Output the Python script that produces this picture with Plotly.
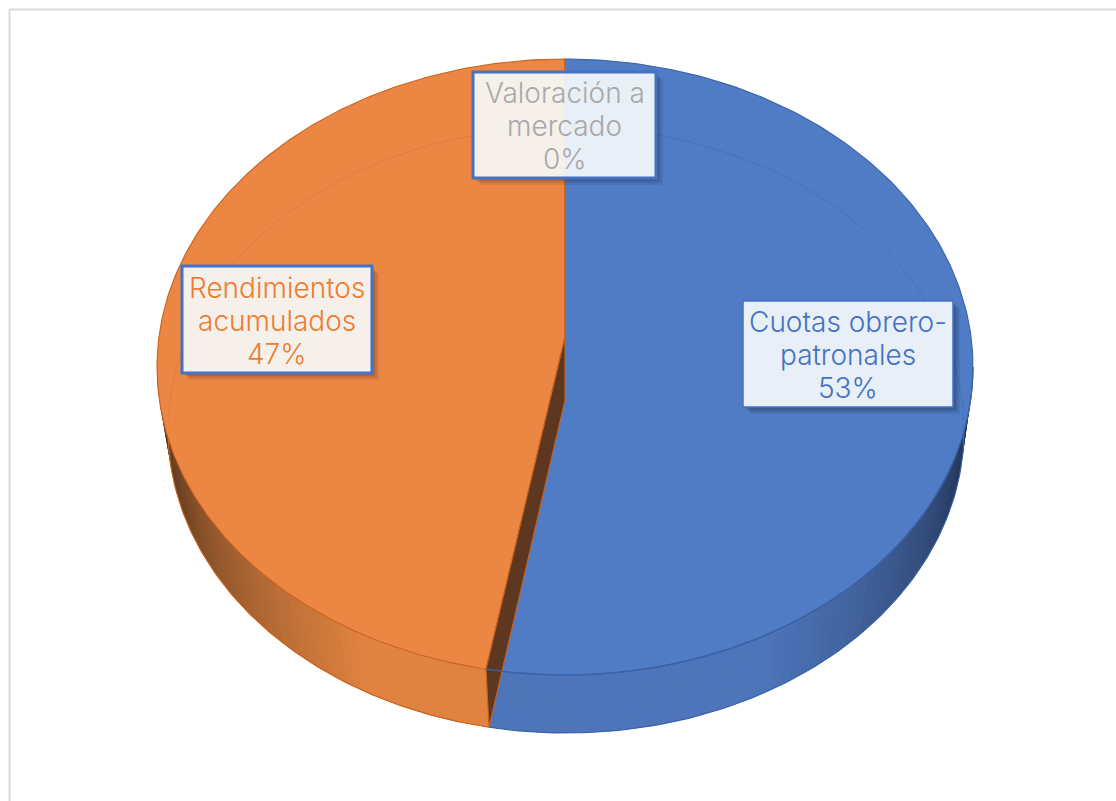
import numpy as np
import plotly.graph_objects as go

categories = [["Cuotas obrero-", "patronales"], ["Rendimientos", "acumulados"], ["Valoración a", "mercado"]]
values = [53.1, 46.9, 0]

FACE = ["#507cc5", "#ec8643", "#a5a5a5"]
EDGE = ["#3a62a8", "#c9621f", "#8f8f8f"]
TEXT = ["#4472c4", "#ed7d31", "#a9a9a9"]
RIM_DARK = [(24, 36, 60), (52, 36, 20), (90, 90, 90)]
RIM_LIGHT = [(78, 117, 185), (224, 130, 64), (165, 165, 165)]
WALL = "#5e3720"
BOX = {0: (743, 301, 953, 407), 1: (182, 266, 372, 373), 2: (473, 72, 656, 178)}

CX, CY, RX, RY = 565, 367, 408, 308
BX, BY, BRX, BRY = 566, 430, 398, 303
APEX_TOP, APEX_BOTTOM = (565, 337), (565, 400)


def top(t):
    r = np.radians(t)
    return CX + RX * np.sin(r), CY - RY * np.cos(r)


def bottom(t):
    r = np.radians(t)
    return BX + BRX * np.sin(r), BY - BRY * np.cos(r)


def poly(x, y, fill, line=None, width=0.8):
    return go.Scatter(x=list(x), y=list(y), mode="lines", fill="toself", fillcolor=fill,
                      line=dict(color=line or fill, width=width), hoverinfo="skip", showlegend=False)


def path(x, y, color, width=1.0):
    return go.Scatter(x=list(x), y=list(y), mode="lines", line=dict(color=color, width=width),
                      hoverinfo="skip", showlegend=False)


total = sum(values)
cum = np.cumsum([0] + values) / total * 360
fig = go.Figure()

# rim: shaded strips on the visible lower half, each overlapping the next
for i, (a, b) in enumerate(zip(cum[:-1], cum[1:])):
    lo, hi = max(a, 90), min(b, 270)
    if hi <= lo:
        continue
    steps = np.linspace(lo, hi, 61)
    order = list(zip(steps[:-1], steps[1:]))
    if i == 1:
        order = order[::-1]
    for s0, s1 in order:
        m = (s0 + s1) / 2
        dist = (m - 90) if i == 0 else (270 - m)
        f = min(dist / 60, 1) ** 0.85
        c = [int(d + (l - d) * f) for d, l in zip(RIM_DARK[i], RIM_LIGHT[i])]
        col = f"rgb({c[0]},{c[1]},{c[2]})"
        e0 = s0 if i == 0 else max(s0 - 1.5, lo)
        e1 = min(s1 + 1.5, hi) if i == 0 else s1
        ss = np.linspace(e0, e1, 4)
        tx, ty = top(ss)
        bx, by = bottom(ss)
        fig.add_trace(poly(np.r_[tx, bx[::-1]], np.r_[ty, by[::-1]], col, width=0))
    bx, by = bottom(np.linspace(lo, hi, 120))
    fig.add_trace(path(bx, by, EDGE[i], 1.2))

# top faces
for i, (a, b) in enumerate(zip(cum[:-1], cum[1:])):
    if b - a <= 0:
        continue
    ang = np.linspace(a, b, 240)
    x, y = top(ang)
    fig.add_trace(poly(np.r_[APEX_TOP[0], x, APEX_TOP[0]], np.r_[APEX_TOP[1], y, APEX_TOP[1]], FACE[i], EDGE[i], 1.1))

# inner wall at the cut between the two large slices
cut = cum[1]
tcx, tcy = top(cut)
bcx, bcy = bottom(cut)
fig.add_trace(poly([APEX_TOP[0], APEX_BOTTOM[0], bcx, tcx, APEX_TOP[0]],
                   [APEX_TOP[1], APEX_BOTTOM[1], bcy, tcy, APEX_TOP[1]], WALL, EDGE[1], 1.1))
fig.add_trace(path([APEX_TOP[0], APEX_TOP[0]], [top(0)[1], APEX_TOP[1]], EDGE[1], 1.2))

# faint arcs of the far floor seen through the top face
fa, fb = bottom(np.linspace(0, 88, 120))
fig.add_trace(path(fa, fb, "#4871b8", 1))
oa, ob = bottom(np.linspace(272, 360, 120))
fig.add_trace(path(oa, ob, "#de7e3e", 1))
ea, eb = top(np.linspace(90, cut, 120))
fig.add_trace(path(ea, eb, EDGE[0], 1.3))

shapes = [dict(type="line", xref="x", yref="y", x0=9.5, x1=9.5, y0=9.5, y1=801, line=dict(color="#d9d9d9", width=2), layer="below"),
          dict(type="line", xref="x", yref="y", x0=9.5, x1=1116, y0=9.5, y1=9.5, line=dict(color="#d9d9d9", width=2), layer="below")]
annotations = []
for i, lines in enumerate(categories):
    x0, y0, x1, y1 = BOX[i]
    for off, alpha in ((7, 0.07), (5, 0.09), (3, 0.11)):
        shapes.append(dict(type="path", xref="x", yref="y", line=dict(width=0),
                           fillcolor=f"rgba(0,0,0,{alpha})",
                           path=f"M{x1},{y0+off} H{x1+off} V{y1+off} H{x0+off} V{y1} H{x1} Z"))
    shapes.append(dict(type="rect", xref="x", yref="y", x0=x0, y0=y0, x1=x1, y1=y1,
                       fillcolor="rgba(246,249,251,0.915)", line=dict(color="#4472c4", width=3 if i else 1.5)))
    mid = (y0 + y1) / 2 + 1
    row_text = lines + [f"{round(values[i])}%"]
    for k, t in enumerate(row_text):
        annotations.append(dict(x=(x0 + x1) / 2, y=mid + (k - 1) * 33, xref="x", yref="y", showarrow=False,
                                text=t, align="center",
                                font=dict(family="Inter", size=28, weight=300, color=TEXT[i])))

fig.update_layout(width=1116, height=801, margin=dict(l=0, r=0, t=0, b=0), paper_bgcolor="white",
                  plot_bgcolor="white", showlegend=False, shapes=shapes, annotations=annotations,
                  xaxis=dict(range=[0, 1116], visible=False, fixedrange=True),
                  yaxis=dict(range=[801, 0], visible=False, fixedrange=True))
fig.write_html("out.html", config={"displayModeBar": False},
               post_script="document.body.style.margin='0';document.documentElement.style.overflow='hidden';")
